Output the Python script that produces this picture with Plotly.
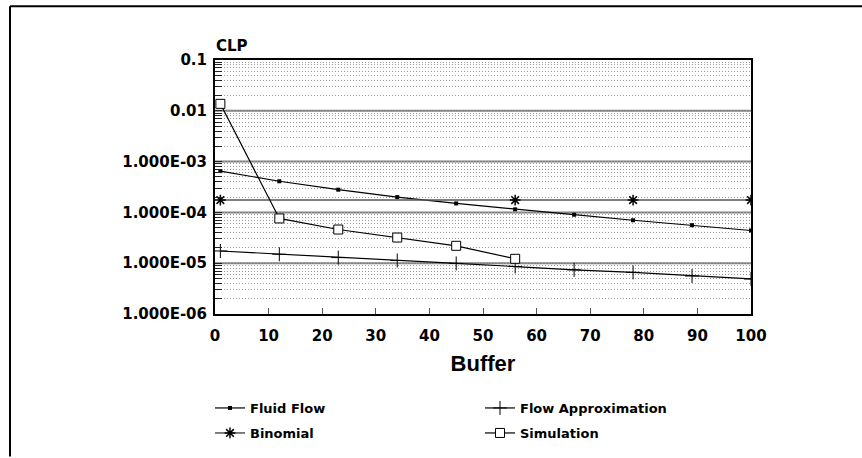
import plotly.graph_objects as go

# Buffer sizes and CLP values per method
buffer = [1, 12, 23, 34, 45, 56, 67, 78, 89, 100]
fluid_flow = [6.5e-4, 4.1e-4, 2.8e-4, 2.0e-4, 1.5e-4, 1.15e-4, 9.0e-5, 7.0e-5, 5.6e-5, 4.4e-5]
flow_approx = [1.74e-5, 1.5e-5, 1.29e-5, 1.13e-5, 9.9e-6, 8.6e-6, 7.4e-6, 6.6e-6, 5.6e-6, 4.9e-6]
binomial_x = [1, 56, 78, 100]
binomial = [1.75e-4, 1.75e-4, 1.75e-4, 1.75e-4]
simulation_x = [1, 12, 23, 34, 45, 56]
simulation = [0.0137, 7.6e-5, 4.6e-5, 3.2e-5, 2.2e-5, 1.22e-5]

decades = [1e-6, 1e-5, 1e-4, 1e-3, 1e-2, 1e-1]
decade_labels = ["1.000E-06", "1.000E-05", "1.000E-04", "1.000E-03", "0.01", "0.1"]
x_ticks = [0, 10, 20, 30, 40, 50, 60, 70, 80, 90, 100]

FONT = "DejaVu Sans"

# tick positions: every k*10^n, labelled only at decades
tickvals, ticktext = [], []
for i, d in enumerate(decades):
    tickvals.append(d)
    ticktext.append(decade_labels[i])
    if i < len(decades) - 1:
        for k in range(2, 10):
            tickvals.append(k * d)
            ticktext.append("")

fig = go.Figure()

fig.add_trace(go.Scatter(
    x=buffer, y=fluid_flow, name="Fluid Flow", mode="lines+markers",
    line=dict(color="black", width=1.2),
    marker=dict(symbol="square", size=4, color="black"),
    legend="legend",
))
fig.add_trace(go.Scatter(
    x=buffer, y=flow_approx, name="Flow Approximation", mode="lines+markers",
    line=dict(color="black", width=1.2),
    marker=dict(symbol="cross-thin-open", size=10, color="black", line=dict(color="black", width=1)),
    legend="legend",
))
fig.add_trace(go.Scatter(
    x=binomial_x, y=binomial, name="Binomial", mode="lines+markers",
    line=dict(color="#555555", width=1.5),
    marker=dict(symbol="asterisk-open", size=9, color="black", line=dict(color="black", width=1.5)),
    legend="legend2",
))
fig.add_trace(go.Scatter(
    x=simulation_x, y=simulation, name="Simulation", mode="lines+markers",
    line=dict(color="black", width=1.2),
    marker=dict(symbol="square", size=9, color="white", line=dict(color="black", width=1)),
    legend="legend2",
))

# solid decade grid lines
shapes = []
for i in range(1, len(decades) - 1):
    frac = i / (len(decades) - 1)
    shapes.append(dict(type="line", xref="paper", yref="paper", x0=0, x1=1, y0=frac, y1=frac,
                       line=dict(color="#808080", width=2), layer="below"))

# page frame (top and left edges)
L, T, W, H = 215, 60, 536, 255
def px(x):
    return (x - L) / W
def py(y):
    return (T + H - y) / H
shapes.append(dict(type="line", xref="paper", yref="paper", x0=px(10), x1=px(862), y0=py(6), y1=py(6),
                   line=dict(color="black", width=2)))
shapes.append(dict(type="line", xref="paper", yref="paper", x0=px(10), x1=px(10), y0=py(6), y1=py(458),
                   line=dict(color="black", width=2)))

legend_common = dict(
    orientation="h", xanchor="left", yanchor="middle",
    font=dict(family=FONT, size=13, color="black", weight="bold"),
    entrywidth=225, entrywidthmode="pixels",
    bgcolor="rgba(0,0,0,0)", itemclick=False, itemdoubleclick=False,
)

fig.update_layout(
    width=862, height=458,
    margin=dict(l=L, r=862 - L - W, t=T, b=458 - T - H),
    paper_bgcolor="white", plot_bgcolor="white",
    font=dict(family=FONT, color="black"),
    showlegend=True,
    legend=dict(x=px(210), y=py(408), **legend_common),
    legend2=dict(x=px(210), y=py(433), **legend_common),
    shapes=shapes,
    annotations=[dict(text="<b>CLP</b>", xref="paper", yref="paper", x=px(214), y=py(46),
                      xanchor="left", yanchor="middle", showarrow=False,
                      font=dict(family=FONT, size=15, color="black"))],
    xaxis=dict(
        range=[0, 100], tickvals=x_ticks, ticks="inside", ticklen=6, tickcolor="#555555",
        showgrid=False, zeroline=False, showline=True, linecolor="black", linewidth=2, mirror=True,
        tickfont=dict(family=FONT, size=15, color="black", weight="bold"),
        ticklabelstandoff=7,
        title=dict(text="Buffer", font=dict(family="Liberation Sans", size=22, color="black", weight="bold"),
                   standoff=12),
    ),
    yaxis=dict(
        type="log", range=[-6, -1], tickvals=tickvals, ticktext=ticktext,
        ticks="inside", ticklen=7, tickcolor="#222222",
        showgrid=True, gridcolor="#9a9a9a", griddash="1px,2px", gridwidth=1,
        zeroline=False, showline=True, linecolor="black", linewidth=2, mirror=True,
        tickfont=dict(family=FONT, size=15, color="black", weight="bold"),
        ticklabelstandoff=3,
    ),
)

fig.write_html("out.html")
